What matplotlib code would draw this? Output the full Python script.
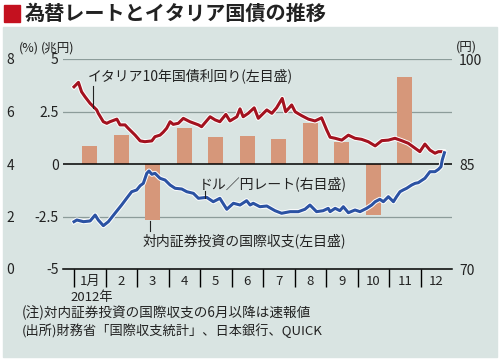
import matplotlib.pyplot as plt
import matplotlib.patheffects as pe
from matplotlib.patches import Rectangle
from matplotlib.lines import Line2D

plt.rcParams['font.family'] = ['Noto Sans CJK JP', 'DejaVu Sans']

W, H = 500, 359

# 対内証券投資の国際収支 (兆円), 1月〜11月
bar_pos = [0.5, 1.5, 2.5, 3.5, 4.5, 5.5, 6.5, 7.5, 8.5, 9.5, 10.5]
flow = [0.85, 1.4, -2.65, 1.7, 1.3, 1.35, 1.2, 1.95, 1.05, -2.45, 4.15]

# イタリア10年国債利回り (%), x = 月 (1月初 = 0)
it_t = [0.0, 0.14, 0.24, 0.35, 0.51, 0.72, 0.77, 0.93, 1.04, 1.14, 1.36, 1.46,
        1.62, 1.72, 1.94, 2.10, 2.25, 2.47, 2.57, 2.73, 2.83, 2.94, 3.05, 3.15,
        3.31, 3.47, 3.68, 3.95, 4.05, 4.32, 4.48, 4.63, 4.82, 4.95, 5.17, 5.27,
        5.37, 5.53, 5.72, 5.85, 6.01, 6.12, 6.28, 6.43, 6.61, 6.72, 6.91, 7.02,
        7.23, 7.44, 7.65, 7.86, 8.02, 8.13, 8.29, 8.50, 8.71, 8.92, 9.13, 9.34,
        9.56, 9.77, 9.98, 10.19, 10.40, 10.61, 10.83, 10.98, 11.14, 11.30, 11.46,
        11.57, 11.72]
it_yield = [6.94, 7.11, 6.75, 6.56, 6.31, 6.06, 5.93, 5.61, 5.55, 5.61, 5.71, 5.49,
            5.49, 5.36, 5.10, 4.88, 4.85, 4.88, 5.04, 5.10, 5.21, 5.36, 5.61, 5.51,
            5.55, 5.74, 5.61, 5.49, 5.42, 5.80, 5.68, 5.61, 5.89, 5.64, 5.80, 6.10,
            5.80, 5.93, 6.14, 5.74, 5.93, 6.06, 5.93, 6.14, 6.50, 5.99, 6.25, 5.99,
            5.84, 5.71, 5.64, 5.76, 5.30, 5.02, 4.98, 4.91, 5.10, 4.98, 4.94, 4.85,
            4.69, 4.89, 4.91, 4.98, 4.89, 4.79, 4.60, 4.47, 4.76, 4.53, 4.41,
            4.47, 4.47]

# ドル/円レート (円)
fx_t = [0.0, 0.09, 0.30, 0.51, 0.67, 0.77, 0.93, 1.09, 1.30, 1.51, 1.67, 1.83,
        1.99, 2.10, 2.20, 2.31, 2.38, 2.47, 2.57, 2.73, 2.89, 3.05, 3.21, 3.42,
        3.58, 3.79, 3.95, 4.21, 4.42, 4.63, 4.85, 5.06, 5.27, 5.48, 5.59, 5.69,
        5.90, 6.12, 6.38, 6.59, 6.86, 7.12, 7.33, 7.49, 7.70, 7.91, 8.07, 8.13,
        8.29, 8.44, 8.55, 8.71, 8.92, 9.08, 9.29, 9.45, 9.56, 9.71, 9.82, 9.98,
        10.14, 10.24, 10.35, 10.45, 10.56, 10.72, 10.83, 10.93, 11.14, 11.30,
        11.46, 11.57, 11.65, 11.69, 11.76]
usdjpy = [76.76, 77.0, 76.76, 76.86, 77.71, 77.0, 76.19, 76.76, 77.96, 79.14, 80.1, 81.04,
          81.29, 81.9, 82.24, 83.67, 84.0, 83.53, 83.67, 82.96, 82.71, 82.0, 81.53, 81.43,
          81.04, 80.81, 80.1, 80.24, 79.61, 80.1, 78.53, 79.39, 79.14, 79.76, 79.14, 79.39,
          78.9, 79.0, 78.33, 77.96, 78.19, 78.19, 78.53, 79.14, 78.19, 78.33, 78.67, 78.19,
          78.67, 78.33, 78.9, 78.04, 78.43, 78.19, 78.67, 79.14, 79.61, 79.96, 79.61, 80.33,
          79.61, 80.33, 81.04, 81.29, 81.53, 82.0, 82.24, 82.33, 82.96, 83.9,
          83.9, 84.24, 84.61, 85.57, 86.61]

month_labels = ['1月', '2', '3', '4', '5', '6', '7', '8', '9', '10', '11', '12']

BG = '#d9e4e2'
RED = '#a3121f'
BLUE = '#2b52a3'
BAR = '#d6977a'
INK = '#222222'


def fx(px):
    return px / W


def fy(py):
    return 1 - py / H


fig = plt.figure(figsize=(W / 100, H / 100), dpi=100)
fig.patch.set_facecolor('white')

# 背景パネルとタイトル
fig.patches.append(Rectangle((fx(3), fy(357)), fx(494), 330 / H,
                             transform=fig.transFigure, color=BG, zorder=-10))
fig.patches.append(Rectangle((fx(4), fy(22)), fx(16), 17 / H,
                             transform=fig.transFigure, color='#c4111f', zorder=1))
fig.text(fx(25), fy(13), '為替レートとイタリア国債の推移', fontsize=14.5,
         fontweight='bold', va='center', ha='left', color=INK)

ax = fig.add_axes([fx(63), fy(269), fx(389), 210 / H])
ax.set_facecolor('none')
ax.bar(bar_pos, flow, width=0.47, color=BAR, zorder=2)
ax.set_xlim(-0.35, 12.0)
ax.set_ylim(-5, 5)
for v in [5, 2.5, -2.5]:
    ax.axhline(v, color='#8c9c9a', lw=0.9, zorder=1)
ax.axhline(0, color='black', lw=1.1, zorder=3)
for s in ['top', 'left', 'right']:
    ax.spines[s].set_visible(False)
ax.spines['bottom'].set_linewidth(1.1)
ax.set_yticks([-5, -2.5, 0, 2.5, 5])
ax.set_yticklabels(['-5', '-2.5', '0', '2.5', '5'])
ax.tick_params(axis='y', length=0, pad=3, labelsize=10, colors=INK)
ax.set_xticks(range(12))
ax.set_xticklabels([])
ax.tick_params(axis='x', which='major', direction='out', length=13, width=1.0)
ax.set_xticks([i + 0.5 for i in range(12)], minor=True)
ax.set_xticklabels(month_labels, minor=True)
ax.tick_params(axis='x', which='minor', length=0, pad=4, labelsize=9.5, colors=INK)

halo = [pe.Stroke(linewidth=3.6, foreground='white'), pe.Normal()]

ax_p = ax.twinx()
ax_p.set_ylim(0, 8)
ax_p.plot(it_t, it_yield, color=RED, lw=2.2, path_effects=halo, zorder=4)
ax_p.yaxis.set_ticks_position('left')
ax_p.set_yticks([0, 2, 4, 6, 8])
ax_p.tick_params(axis='y', length=0, pad=35, labelsize=10, colors=INK)
for s in ax_p.spines.values():
    s.set_visible(False)

ax_r = ax.twinx()
ax_r.set_ylim(70, 100)
ax_r.plot(fx_t, usdjpy, color=BLUE, lw=2.2, path_effects=halo, zorder=4)
ax_r.set_yticks([70, 85, 100])
ax_r.tick_params(axis='y', length=0, pad=5, labelsize=10, colors=INK)
for s in ax_r.spines.values():
    s.set_visible(False)

# 単位
fig.text(fx(19), fy(48), '(%)', fontsize=9, va='center', ha='left', color=INK)
fig.text(fx(41), fy(48), '(兆円)', fontsize=9, va='center', ha='left', color=INK)
fig.text(fx(456), fy(47), '(円)', fontsize=9, va='center', ha='left', color=INK)
fig.text(fx(70), fy(297), '2012年', fontsize=9.5, va='center', ha='left', color=INK)

# 系列ラベルと引き出し線
fig.text(fx(88), fy(76), 'イタリア10年国債利回り(左目盛)', fontsize=10,
         va='center', ha='left', color=INK)
fig.text(fx(199), fy(184), 'ドル／円レート(右目盛)', fontsize=10,
         va='center', ha='left', color=INK)
fig.text(fx(143), fy(241), '対内証券投資の国際収支(左目盛)', fontsize=10,
         va='center', ha='left', color=INK)
for x0, y0, y1 in [(93, 86, 108), (205, 191, 198), (150, 221, 231)]:
    fig.add_artist(Line2D([fx(x0), fx(x0)], [fy(y0), fy(y1)], color=INK,
                          lw=0.8, transform=fig.transFigure))

# 注記
fig.text(fx(22), fy(313), '(注)対内証券投資の国際収支の6月以降は速報値', fontsize=9.8,
         va='center', ha='left', color=INK)
fig.text(fx(22), fy(331), '(出所)財務省「国際収支統計」、日本銀行、QUICK', fontsize=9.5,
         va='center', ha='left', color=INK)

fig.savefig('out.png', dpi=100, facecolor='white')
